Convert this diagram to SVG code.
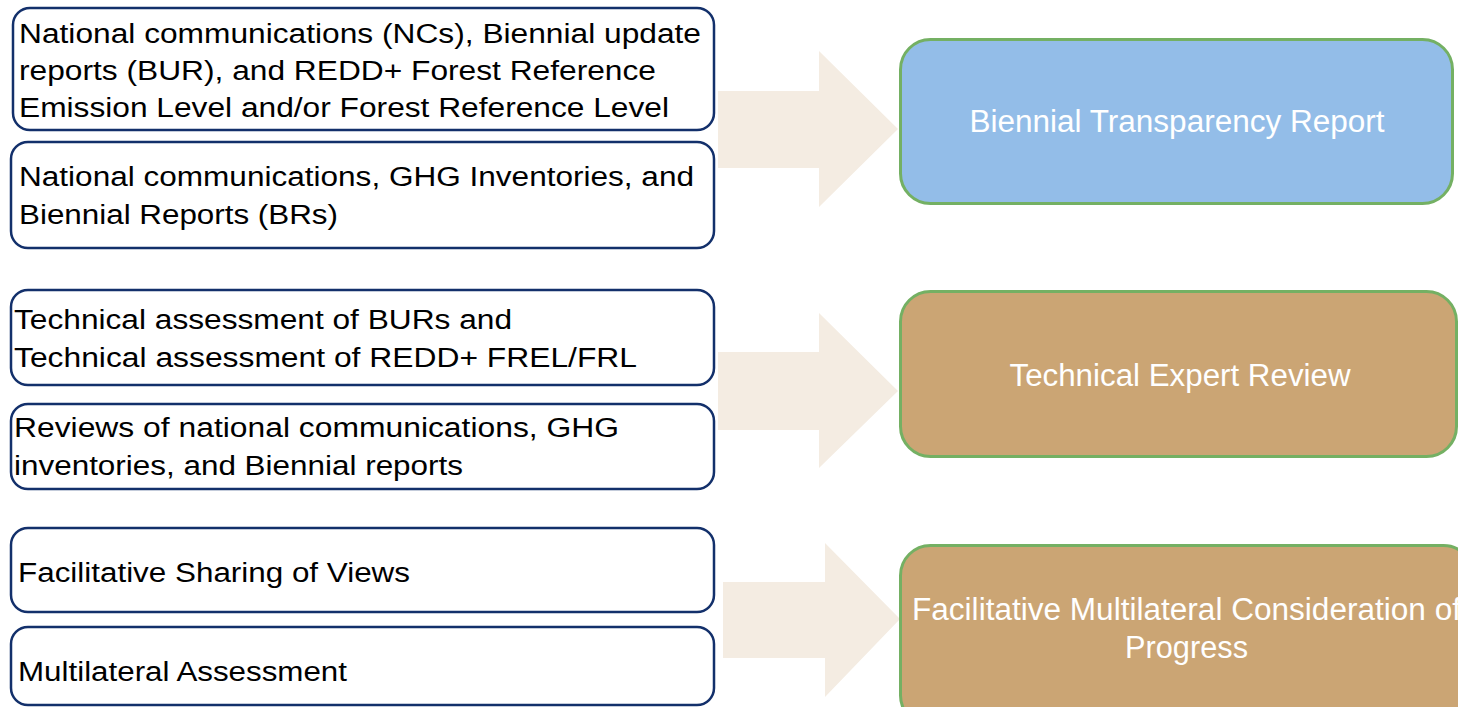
<svg xmlns="http://www.w3.org/2000/svg" width="1458" height="707" viewBox="0 0 1458 707">
<style>
.src{fill:#ffffff;stroke:#13306b;stroke-width:2.5}
.tgt{stroke:#74b063;stroke-width:3}
.blue{fill:#93bde8}
.tan{fill:#cba574}
.arrow{fill:#f4ece2;stroke:none}
.lt{font-family:"Liberation Sans",Arial,sans-serif;font-size:27px;fill:#000000}
.rt{font-family:"Liberation Sans",Arial,sans-serif;font-size:31px;fill:#ffffff;text-anchor:middle}
</style>
<rect width="1458" height="707" fill="#ffffff"/>
<g id="connectors">
<polygon class="arrow" points="718,91 819,91 819,51 898,129 819,207 819,168 718,168"/>
<polygon class="arrow" points="718,352 819,352 819,313 898,391 819,468 819,430 718,430"/>
<polygon class="arrow" points="723,582 825,582 825,543 900,619 825,697 825,658 723,658"/>
</g>
<g id="n1">
<rect class="src" x="13" y="8" width="701" height="122" rx="17"/>
<text class="lt" x="19" y="43" textLength="682" lengthAdjust="spacingAndGlyphs">National communications (NCs), Biennial update</text>
<text class="lt" x="19" y="80" textLength="637" lengthAdjust="spacingAndGlyphs">reports (BUR), and REDD+ Forest Reference</text>
<text class="lt" x="19" y="117" textLength="650" lengthAdjust="spacingAndGlyphs">Emission Level and/or Forest Reference Level</text>
</g>
<g id="n2">
<rect class="src" x="11" y="142" width="703" height="106" rx="17"/>
<text class="lt" x="19" y="186" textLength="675" lengthAdjust="spacingAndGlyphs">National communications, GHG Inventories, and</text>
<text class="lt" x="19" y="224" textLength="319" lengthAdjust="spacingAndGlyphs">Biennial Reports (BRs)</text>
</g>
<g id="n3">
<rect class="src" x="11" y="290" width="703" height="95" rx="17"/>
<text class="lt" x="14" y="329" textLength="498" lengthAdjust="spacingAndGlyphs">Technical assessment of BURs and</text>
<text class="lt" x="14" y="367" textLength="623" lengthAdjust="spacingAndGlyphs">Technical assessment of REDD+ FREL/FRL</text>
</g>
<g id="n4">
<rect class="src" x="11" y="404" width="703" height="85" rx="17"/>
<text class="lt" x="14" y="437" textLength="605" lengthAdjust="spacingAndGlyphs">Reviews of national communications, GHG</text>
<text class="lt" x="14" y="475" textLength="449" lengthAdjust="spacingAndGlyphs">inventories, and Biennial reports</text>
</g>
<g id="n5">
<rect class="src" x="11" y="528" width="703" height="84" rx="17"/>
<text class="lt" x="18" y="582" textLength="392" lengthAdjust="spacingAndGlyphs">Facilitative Sharing of Views</text>
</g>
<g id="n6">
<rect class="src" x="11" y="627" width="703" height="78" rx="17"/>
<text class="lt" x="18" y="681" textLength="329" lengthAdjust="spacingAndGlyphs">Multilateral Assessment</text>
</g>
<g id="btr">
<rect class="tgt blue" x="900.5" y="39.5" width="552" height="164" rx="30"/>
<text class="rt" x="1177" y="132" textLength="415" lengthAdjust="spacingAndGlyphs">Biennial Transparency Report</text>
</g>
<g id="ter">
<rect class="tgt tan" x="900.5" y="291.5" width="556" height="165" rx="30"/>
<text class="rt" x="1180" y="386" textLength="341" lengthAdjust="spacingAndGlyphs">Technical Expert Review</text>
</g>
<g id="fmcp">
<rect class="tgt tan" x="900.5" y="545.5" width="573" height="180" rx="30"/>
<text class="rt" x="1186.5" y="620" textLength="549" lengthAdjust="spacingAndGlyphs">Facilitative Multilateral Consideration of</text>
<text class="rt" x="1186.5" y="658" textLength="123" lengthAdjust="spacingAndGlyphs">Progress</text>
</g>
</svg>
